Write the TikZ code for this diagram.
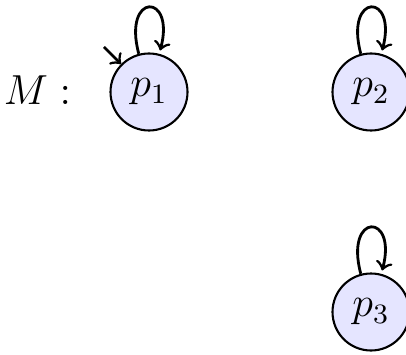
\documentclass[tikz,border=0pt]{standalone}
\begin{document}
\begin{tikzpicture}[x=0.2857pt,y=-0.2857pt,
  stnode/.style={circle,draw,semithick,fill=blue!10,minimum size=22pt,inner sep=0pt,font=\large},
  lbl/.style={font=\large,inner sep=0pt},
  arr/.style={->,thick}]
\useasboundingbox (0,0) rectangle (406,354);
\node[lbl] (M) at (37.5,90) {$M:$};
\node[stnode] (p1) at (149,92) {$p_1$};
\node[stnode] (p2) at (371,92) {$p_2$};
\node[stnode] (p3) at (371,312) {$p_3$};
\coordinate (init) at (104,47);
\draw[arr] (init) -- (p1);
\path[arr] (p1) edge[loop above] (p1);
\path[arr] (p2) edge[loop above] (p2);
\path[arr] (p3) edge[loop above] (p3);
\end{tikzpicture}
\end{document}
